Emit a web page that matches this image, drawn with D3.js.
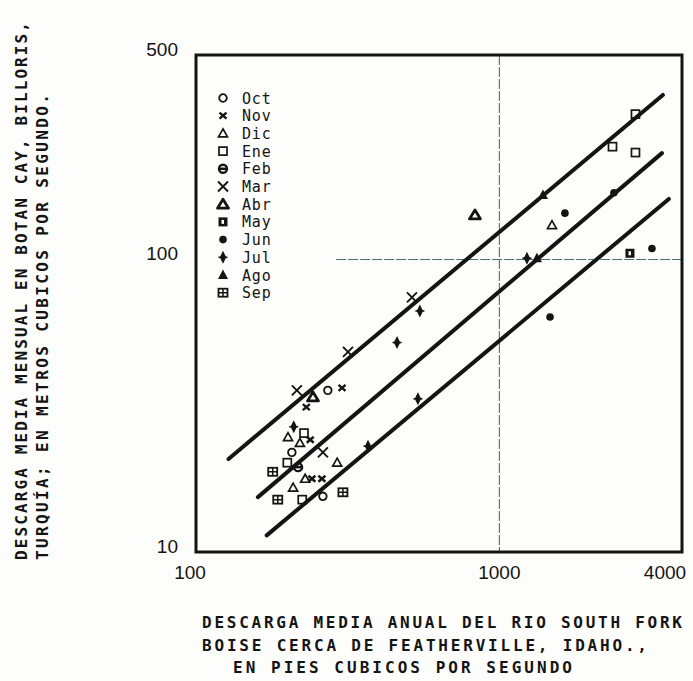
<!DOCTYPE html>
<html>
<head>
<meta charset="utf-8">
<script src="https://cdn.jsdelivr.net/npm/d3@7/dist/d3.min.js"></script>
<style>
  body { margin: 0; background: #fff; }
  svg { display: block; }
</style>
</head>
<body>
<div id="chart"></div>
<script>
// ---- data ----
var months = ["Oct","Nov","Dic","Ene","Feb","Mar","Abr","May","Jun","Jul","Ago","Sep"];

// monthly discharge (m3/s) vs annual discharge (cfs)
var obsMonth = ["Oct","Oct","Oct",
                "Nov","Nov","Nov","Nov","Nov",
                "Dic","Dic","Dic","Dic","Dic","Dic",
                "Ene","Ene","Ene","Ene","Ene","Ene",
                "Feb",
                "Mar","Mar","Mar","Mar",
                "Abr","Abr",
                "May",
                "Jun","Jun","Jun","Jun",
                "Jul","Jul","Jul","Jul","Jul","Jul",
                "Ago","Ago",
                "Sep","Sep","Sep"];
var obsX = [272, 207, 262,
            303, 231, 238, 241, 260,
            201, 220, 292, 229, 209, 1491,
            227, 200, 224, 2810, 2360, 2810,
            217,
            215, 317, 515, 262,
            243, 831,
            2695,
            1645, 2386, 3184, 1469,
            460, 547, 1233, 539, 369, 210,
            1392, 1330,
            179, 186, 305];
var obsY = [35.7, 21.9, 15.5,
            36.4, 31.3, 24.2, 17.8, 17.8,
            24.7, 23.6, 20.2, 17.8, 16.6, 131,
            25.5, 20.2, 15.1, 314, 243, 232,
            19.5,
            35.7, 48.3, 74.2, 21.9,
            33.9, 142,
            105,
            144, 169, 109, 63.6,
            52.0, 66.7, 101, 33.4, 23.0, 26.8,
            166, 101,
            18.8, 15.1, 16.0];

// three fitted lines: [x1, y1, x2, y2]
var fitLines = [[128, 20.8, 3460, 365],
                [160, 15.4, 3435, 231],
                [171, 11.4, 3620, 161]];

var yTicks = [10, 100, 500];
var xTicks = [100, 1000, 4000];

var yTitle = ["DESCARGA MEDIA MENSUAL EN BOTAN CAY, BILLORIS,",
              "TURQUÍA; EN METROS CUBICOS POR SEGUNDO."];
var xTitle = ["DESCARGA MEDIA ANUAL DEL RIO SOUTH FORK",
              "BOISE CERCA DE FEATHERVILLE, IDAHO.,",
              "EN PIES CUBICOS POR SEGUNDO"];

// ---- drawing ----
var W = 693, H = 681;
var ink = "#141414", gridInk = "#4a6f6c";
var box = {x1: 196, x2: 682, y1: 55, y2: 552};

var svg = d3.select("#chart").append("svg")
  .attr("width", W).attr("height", H)
  .attr("viewBox", "0 0 " + W + " " + H)
  .style("background", "#fdfdfb");

var x = d3.scaleLog().domain([100, 4000]).range([box.x1, box.x2]);
var y = d3.scaleLog().domain([10, 500]).range([box.y2, box.y1]);

// grid lines at 1000 and 100
svg.append("line")
  .attr("x1", x(1000)).attr("x2", x(1000))
  .attr("y1", box.y1).attr("y2", box.y2)
  .attr("stroke", gridInk).attr("stroke-width", 1.1)
  .attr("stroke-dasharray", "10,2");
svg.append("line")
  .attr("x1", x(290)).attr("x2", box.x2)
  .attr("y1", y(100)).attr("y2", y(100))
  .attr("stroke", gridInk).attr("stroke-width", 1.1)
  .attr("stroke-dasharray", "10,2");

// frame
svg.append("rect")
  .attr("x", box.x1).attr("y", box.y1)
  .attr("width", box.x2 - box.x1).attr("height", box.y2 - box.y1)
  .attr("fill", "none").attr("stroke", ink).attr("stroke-width", 3);

// fitted lines
svg.append("g").selectAll("line").data(fitLines).enter().append("line")
  .attr("x1", function(d){ return x(d[0]); })
  .attr("y1", function(d){ return y(d[1]); })
  .attr("x2", function(d){ return x(d[2]); })
  .attr("y2", function(d){ return y(d[3]); })
  .attr("stroke", ink).attr("stroke-width", 4)
  .attr("stroke-linecap", "round");

// marker per month
function drawMarker(g, m){
  switch (m) {
    case "Oct":
      g.append("circle").attr("r", 3.8).attr("fill", "none")
        .attr("stroke", ink).attr("stroke-width", 1.8);
      break;
    case "Nov":
      g.append("path").attr("d", "M-3.5,-3 L3.5,3 M-3.5,3 L3.5,-3")
        .attr("stroke", ink).attr("stroke-width", 2.4);
      break;
    case "Dic":
      g.append("path").attr("d", "M0,-4.5 L4.5,3.5 L-4.5,3.5 Z").attr("fill", "none")
        .attr("stroke", ink).attr("stroke-width", 1.7);
      break;
    case "Ene":
      g.append("rect").attr("x", -4).attr("y", -4).attr("width", 8).attr("height", 8)
        .attr("fill", "none").attr("stroke", ink).attr("stroke-width", 1.7);
      break;
    case "Feb":
      g.append("circle").attr("r", 4).attr("fill", "none")
        .attr("stroke", ink).attr("stroke-width", 2.4);
      g.append("path").attr("d", "M-4,0 L4,0").attr("stroke", ink).attr("stroke-width", 2.5);
      break;
    case "Mar":
      g.append("path").attr("d", "M-5,-5 L5,5 M-5,5 L5,-5")
        .attr("stroke", ink).attr("stroke-width", 1.9);
      break;
    case "Abr":
      g.append("path").attr("d", "M0,-5 L5.5,4 L-5.5,4 Z").attr("fill", "none")
        .attr("stroke", ink).attr("stroke-width", 2.8).attr("stroke-linejoin", "round");
      break;
    case "May":
      g.append("rect").attr("x", -4.5).attr("y", -4.5).attr("width", 9).attr("height", 9)
        .attr("fill", ink);
      g.append("rect").attr("x", -1.5).attr("y", -2).attr("width", 2.5).attr("height", 4)
        .attr("fill", "#fff");
      break;
    case "Jun":
      g.append("circle").attr("r", 3.8).attr("fill", ink);
      break;
    case "Jul":
      g.append("path").attr("d", "M0,-6.5 L3.2,0 L0,6.5 L-3.2,0 Z").attr("fill", ink);
      g.append("path").attr("d", "M-4.5,0 L4.5,0").attr("stroke", ink).attr("stroke-width", 1.6);
      break;
    case "Ago":
      g.append("path").attr("d", "M0,-5.5 L5,4 L-5,4 Z").attr("fill", ink);
      break;
    case "Sep":
      g.append("rect").attr("x", -4.5).attr("y", -4).attr("width", 9).attr("height", 8)
        .attr("fill", "none").attr("stroke", ink).attr("stroke-width", 1.8);
      g.append("path").attr("d", "M0,-4 L0,4 M-4.5,0 L4.5,0")
        .attr("stroke", ink).attr("stroke-width", 1.5);
      break;
  }
}

// observations
var pts = svg.append("g");
obsMonth.forEach(function(m, i){
  var g = pts.append("g")
    .attr("transform", "translate(" + x(obsX[i]) + "," + y(obsY[i]) + ")");
  drawMarker(g, m);
});

// legend
var legend = svg.append("g").attr("transform", "translate(223,98)");
months.forEach(function(m, i){
  var g = legend.append("g").attr("transform", "translate(0," + (i * 17.7) + ")");
  drawMarker(g, m);
  g.append("text").attr("x", 19).attr("y", 5.5)
    .style("font-family", "DejaVu Sans Mono")
    .style("font-size", "15px")
    .style("letter-spacing", "0.8px")
    .attr("fill", ink)
    .text(m);
});

// tick labels
var tickFont = "Liberation Sans, Arial, sans-serif";
svg.append("g").selectAll("text").data(yTicks).enter().append("text")
  .attr("x", 178)
  .attr("y", function(d){ return y(d) + 1; })
  .attr("text-anchor", "end")
  .style("font-family", tickFont).style("font-size", "19px")
  .attr("fill", ink)
  .text(function(d){ return d; });

var xShift = {100: -6, 1000: 0, 4000: -17};
svg.append("g").selectAll("text").data(xTicks).enter().append("text")
  .attr("x", function(d){ return x(d) + xShift[d]; })
  .attr("y", 579)
  .attr("text-anchor", "middle")
  .style("font-family", tickFont).style("font-size", "19px")
  .attr("fill", ink)
  .text(function(d){ return d; });

// axis titles (typewriter style)
var titleFont = "DejaVu Sans Mono, monospace";
var xTitlePos = [[202, 628, 480], [202, 651, 445], [233, 673, 339]];
svg.append("g").selectAll("text").data(xTitle).enter().append("text")
  .attr("x", function(d, i){ return xTitlePos[i][0]; })
  .attr("y", function(d, i){ return xTitlePos[i][1]; })
  .attr("textLength", function(d, i){ return xTitlePos[i][2]; })
  .attr("lengthAdjust", "spacing")
  .style("font-family", titleFont).style("font-size", "16px").style("font-weight", "bold")
  .attr("fill", ink)
  .text(function(d){ return d; });

var yTitlePos = [[27, 560, 538], [48, 560, 466]];
svg.append("g").selectAll("text").data(yTitle).enter().append("text")
  .attr("transform", function(d, i){
    return "translate(" + yTitlePos[i][0] + "," + yTitlePos[i][1] + ") rotate(-90)";
  })
  .attr("textLength", function(d, i){ return yTitlePos[i][2]; })
  .attr("lengthAdjust", "spacing")
  .style("font-family", titleFont).style("font-size", "16px").style("font-weight", "bold")
  .attr("fill", ink)
  .text(function(d){ return d; });
</script>
</body>
</html>
